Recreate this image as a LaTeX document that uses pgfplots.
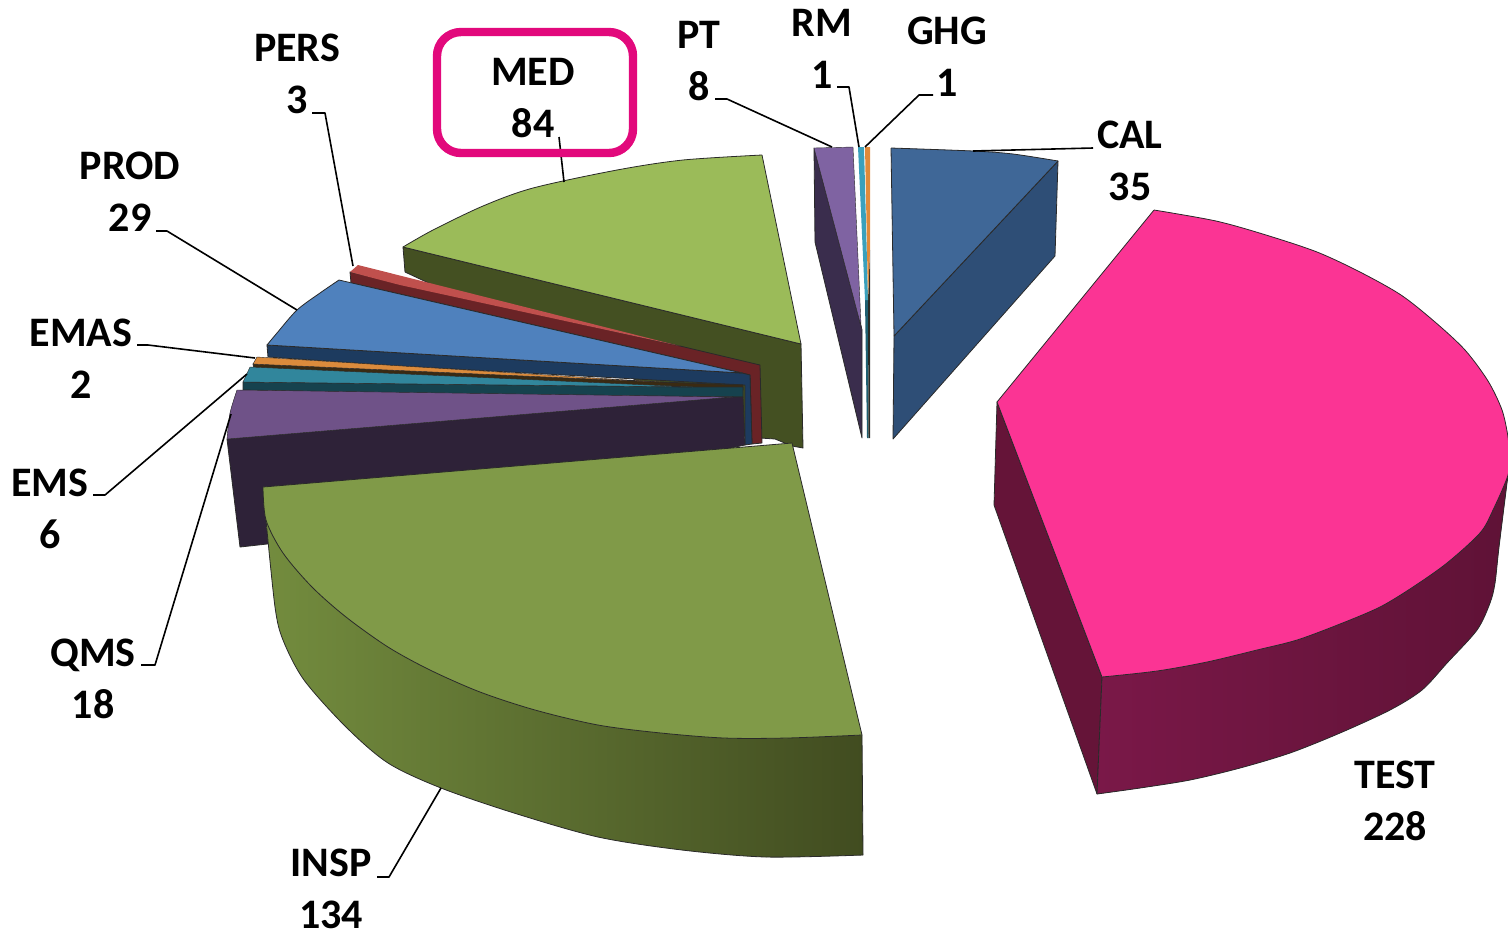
\documentclass[border=0pt]{standalone}
\usepackage{fontspec}
\setmainfont{Carlito}
\usepackage{pgfplots}
\pgfplotsset{compat=1.18}

\definecolor{testtop}{HTML}{FB3494}
\definecolor{testside}{HTML}{651438}
\definecolor{testa}{HTML}{7A1848}
\definecolor{testb}{HTML}{5F1236}
\definecolor{insptop}{HTML}{809A48}
\definecolor{inspa}{HTML}{738C3E}
\definecolor{inspb}{HTML}{414C20}
\definecolor{medtop}{HTML}{9BBB59}
\definecolor{medside}{HTML}{445022}
\definecolor{perstop}{HTML}{C0504D}
\definecolor{persside}{HTML}{6A2326}
\definecolor{prodtop}{HTML}{4F81BD}
\definecolor{prodside}{HTML}{1D3B5F}
\definecolor{emastop}{HTML}{DB8B3C}
\definecolor{emasside}{HTML}{3A2A12}
\definecolor{emstop}{HTML}{31869C}
\definecolor{emsside}{HTML}{16424E}
\definecolor{qmstop}{HTML}{6F5288}
\definecolor{qmsside}{HTML}{2E2238}
\definecolor{caltop}{HTML}{3F6797}
\definecolor{calside}{HTML}{2E4E76}
\definecolor{pttop}{HTML}{7F63A2}
\definecolor{ptside}{HTML}{3A2D4D}
\definecolor{rmtop}{HTML}{3AA0BC}
\definecolor{rmside}{HTML}{1F5F70}
\definecolor{ghgtop}{HTML}{E08A3A}
\definecolor{ghgside}{HTML}{2A2A24}
\definecolor{boxpink}{HTML}{E2097C}
\definecolor{edge}{HTML}{2A2A2A}

% baseline of the first line in picture pixels
\newcommand{\lab}[4]{%
  \node[anchor=base,inner sep=0pt,font=\fontsize{21}{26}\selectfont\bfseries] at (axis cs:#1,#2) {#3};
  \node[anchor=base,inner sep=0pt,font=\fontsize{21}{26}\selectfont\bfseries] at (axis cs:#1,#2+52) {#4};
}

\begin{document}
\begin{tikzpicture}
\path[use as bounding box] (0,0) rectangle (754pt,466.5pt);
\begin{axis}[
    hide axis,
    scale only axis,
    width=754pt,
    height=466.5pt,
    xmin=0, xmax=1508,
    ymin=0, ymax=933,
    y dir=reverse,
    every axis plot/.append style={draw=edge, line width=0.4pt, line join=round},
    leader/.style={black, line width=0.8pt},
]
% MED
\addplot[fill=medside] coordinates {(403,247) (801,344) (803,448) (792,446) (775,439) (760,438) (405,272)} --cycle;
\addplot[fill=medtop, draw=none] coordinates {(403,247) (433,230) (483,206) (533,188) (563,181) (617,170) (683,160) (762,155) (801,344)} --cycle;
\addplot[fill=medtop, smooth] coordinates {(403,247) (433,230) (483,206) (533,188) (617,170) (683,160) (762,155)};
\addplot[] coordinates {(762,155) (801,344) (403,247)};
% PERS
\addplot[fill=persside] coordinates {(350,272) (351,283) (400,294) (742,373) (750,375) (752,444) (762,443) (760,365) (680,346)} --cycle;
\addplot[fill=perstop, draw=none] coordinates {(358,265) (680,346) (400,285) (350,272)} --cycle;
% PROD
\addplot[fill=prodside] coordinates {(267,345) (268,357) (400,366) (745,385) (745,445) (752,444) (750,375) (742,373)} --cycle;
\addplot[fill=prodtop, draw=none] coordinates {(267,345) (277,333) (297,310) (320,293) (339,280) (742,373)} --cycle;
\addplot[fill=prodtop, smooth] coordinates {(267,345) (277,333) (297,310) (320,293) (339,280)};
\addplot[] coordinates {(339,280) (742,373) (267,345)};
% EMAS
\addplot[fill=emasside] coordinates {(253,364) (254,368) (400,375) (743,390) (743,385) (660,382)} --cycle;
\addplot[fill=emastop, line width=0.2pt] coordinates {(257,357) (660,382) (253,364)} --cycle;
% EMS
\addplot[fill=emsside] coordinates {(243,382) (243,390) (400,393) (743,397) (743,387) (693,387)} --cycle;
\addplot[fill=emstop, line width=0.2pt] coordinates {(250,367) (693,387) (243,382)} --cycle;
% QMS
\addplot[fill=qmsside] coordinates {(227,439) (240,547) (267,544) (745,445) (743,397) (733,397)} --cycle;
\addplot[fill=qmstop, draw=none] coordinates {(237,390) (230,413) (227,439) (733,397)} --cycle;
\addplot[fill=qmstop, smooth, line width=0.2pt] coordinates {(237,390) (230,413) (227,439)};
\addplot[line width=0.2pt] coordinates {(237,390) (733,397) (227,439)};
% INSP
\addplot[left color=inspa, right color=inspb, draw=none] coordinates {(266,520) (275,607) (283,640) (304,680) (346,727) (388,763) (441,788) (514,813) (598,837) (682,850) (766,857) (863,855) (862,735)} --cycle;
\addplot[left color=inspa, right color=inspb, smooth] coordinates {(266,520) (275,607) (283,640) (304,680) (346,727) (388,763) (441,788) (514,813) (598,837) (682,850) (766,857) (863,855)};
\addplot[] coordinates {(863,855) (862,735)};
\addplot[fill=insptop, draw=none] coordinates {(263,487) (266,520) (283,553) (312,587) (346,617) (388,647) (430,670) (480,692) (535,710) (598,725) (661,733) (724,738) (787,738) (862,735) (792,443)} --cycle;
\addplot[fill=insptop, smooth] coordinates {(263,487) (266,520) (283,553) (312,587) (346,617) (388,647) (430,670) (480,692) (535,710) (598,725) (661,733) (724,738) (787,738) (862,735)};
\addplot[] coordinates {(862,735) (792,443) (263,487)};
% PT
\addplot[fill=ptside] coordinates {(814,148) (815,242) (862,438) (862,330)} --cycle;
\addplot[fill=pttop, line width=0.2pt] coordinates {(814,148) (853,147) (861,325) (862,330)} --cycle;
% RM
\addplot[fill=rmside, draw=none] coordinates {(865,300) (868,300) (868.5,438) (867,438)} --cycle;
\addplot[fill=rmtop, draw=none] coordinates {(858,147) (864,147) (868,300) (865,300)} --cycle;
% GHG
\addplot[fill=ghgside, draw=none] coordinates {(868,300) (870,250) (870,438) (868.5,438)} --cycle;
\addplot[fill=ghgtop, draw=none] coordinates {(865,147) (870,147) (870,250) (868,300)} --cycle;
% CAL
\addplot[fill=calside] coordinates {(894,336) (1058,161) (1055,256) (893,439)} --cycle;
\addplot[fill=caltop, draw=none] coordinates {(891,148) (973,151) (1013,154) (1058,161) (894,336)} --cycle;
\addplot[fill=caltop, smooth] coordinates {(891,148) (973,151) (1013,154) (1058,161)};
\addplot[] coordinates {(1058,161) (894,336) (891,148)};
% TEST
\addplot[fill=testside] coordinates {(997,402) (994,505) (1097,794) (1102,677)} --cycle;
\addplot[left color=testa, middle color=testb, right color=testb, draw=none] coordinates {(1102,677) (1097,794) (1140,788) (1190,780) (1240,768) (1290,753) (1340,733) (1390,710) (1422,690) (1447,663) (1477,630) (1490,603) (1495,583) (1499,547) (1508,475)} --cycle;
\addplot[left color=testa, middle color=testb, right color=testb, smooth] coordinates {(1097,794) (1140,788) (1190,780) (1240,768) (1290,753) (1340,733) (1390,710) (1422,690) (1447,663) (1477,630) (1490,603) (1495,583) (1499,547) (1508,475)};
\addplot[] coordinates {(1097,794) (1102,677)};
\addplot[fill=testtop, draw=none] coordinates {(1154,210) (1216,221) (1266,235) (1317,252) (1360,272) (1401,295) (1435,322) (1465,350) (1488,381) (1502,410) (1508,437) (1509,455) (1508,475) (1493,510) (1480,533) (1447,563) (1413,587) (1380,607) (1340,624) (1297,640) (1257,650) (1207,662) (1157,671) (1102,677) (997,402)} --cycle;
\addplot[fill=testtop, smooth] coordinates {(1154,210) (1216,221) (1266,235) (1317,252) (1360,272) (1401,295) (1435,322) (1465,350) (1488,381) (1502,410) (1508,437) (1509,455) (1508,475) (1493,510) (1480,533) (1447,563) (1413,587) (1380,607) (1340,624) (1297,640) (1257,650) (1207,662) (1157,671) (1102,677)};
\addplot[] coordinates {(1102,677) (997,402) (1154,210)};

% leader lines
\addplot[leader] coordinates {(312,113) (325,113) (353,266)};
\addplot[leader] coordinates {(559,137) (564,182)};
\addplot[leader] coordinates {(715,99) (727,99) (832,147)};
\addplot[leader] coordinates {(837,87) (849,87) (859,147)};
\addplot[leader] coordinates {(933,95) (919,95) (865,147)};
\addplot[leader] coordinates {(1093,148) (973,151)};
\addplot[leader] coordinates {(377,877) (389,877) (441,788)};
\addplot[leader] coordinates {(141,665) (155,665) (231,414)};
\addplot[leader] coordinates {(93,495) (105,495) (247,374)};
\addplot[leader] coordinates {(137,345) (148,345) (255,358)};
\addplot[leader] coordinates {(156,231) (167,231) (297,310)};

% highlight round MED
\draw[boxpink, line width=4.2pt, rounded corners=12pt] (axis cs:437,32) rectangle (axis cs:633,153);

\lab{297}{61}{PERS}{3}
\lab{533}{85}{MED}{84}
\lab{699}{48}{PT}{8}
\lab{822}{36}{RM}{1}
\lab{947}{44}{GHG}{1}
\lab{1130}{148}{CAL}{35}
\lab{1395}{788}{TEST}{228}
\lab{331}{876}{INSP}{134}
\lab{93}{666}{QMS}{18}
\lab{50}{496}{EMS}{6}
\lab{81}{346}{EMAS}{2}
\lab{130}{179}{PROD}{29}
\end{axis}
\end{tikzpicture}
\end{document}
